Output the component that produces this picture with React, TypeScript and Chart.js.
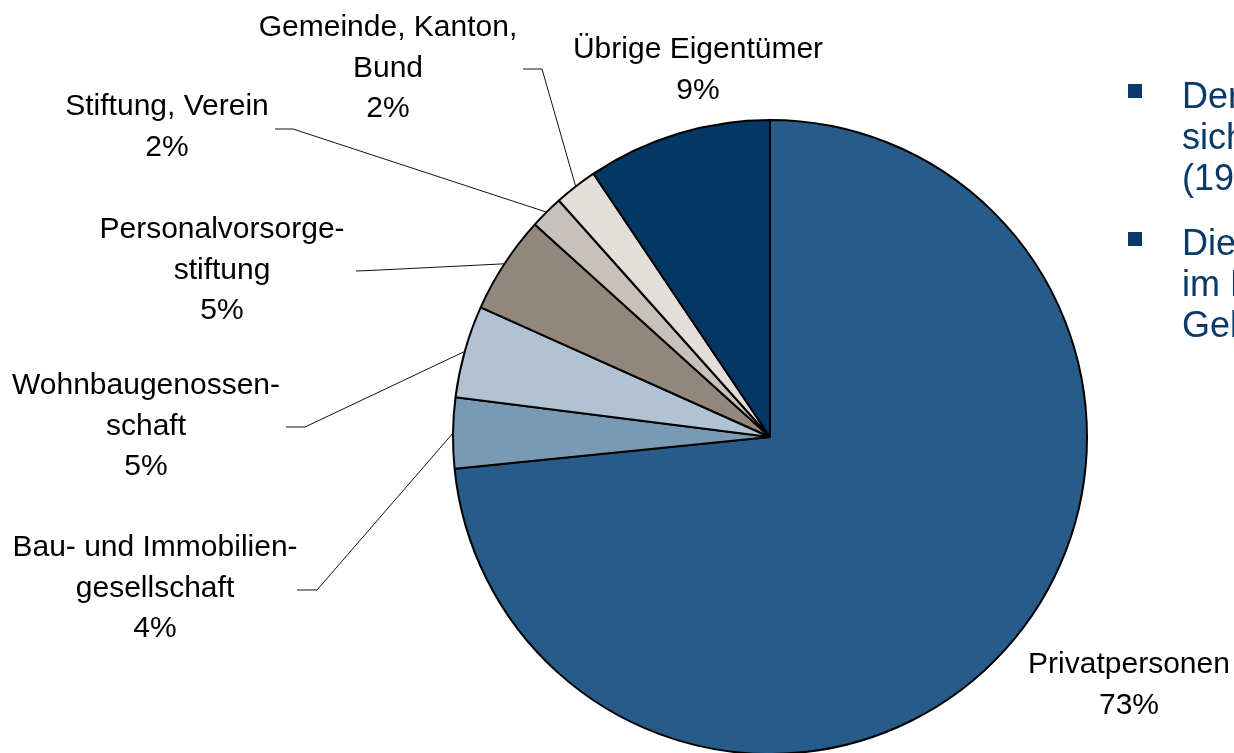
import React, { useEffect, useRef } from "react";
import { Chart, registerables } from "chart.js";

Chart.register(...registerables);

// ---------- data ----------
const categories: string[] = [
  "Privatpersonen",
  "Bau- und Immobiliengesellschaft",
  "Wohnbaugenossenschaft",
  "Personalvorsorgestiftung",
  "Stiftung, Verein",
  "Gemeinde, Kanton, Bund",
  "Übrige Eigentümer",
];
const labelLines: string[][] = [
  ["Privatpersonen"],
  ["Bau- und Immobilien-", "gesellschaft"],
  ["Wohnbaugenossen-", "schaft"],
  ["Personalvorsorge-", "stiftung"],
  ["Stiftung, Verein"],
  ["Gemeinde, Kanton,", "Bund"],
  ["Übrige Eigentümer"],
];
const shares: number[] = [73.4, 3.6, 4.7, 5.0, 1.7, 2.2, 9.4];
const sliceColors: string[] = [
  "#275B89",
  "#7A99B4",
  "#B1C2D2",
  "#91877C",
  "#C8C0BA",
  "#E2DFDB",
  "#033764",
];
const noteParagraphs: string[][] = [
  ["Der Anteil der Privatpersonen", "sich seit der letzten Erhebung", "(1990) kaum verändert."],
  ["Die übrigen Eigentümer", "im Besitz von Wohnungen sind", "Gebietskörperschaften."],
];

// ---------- layout of the label annotations ----------
type LabelLayout = { x: number; y: number; elbow?: [number, number]; start?: [number, number] };
const labelLayout: LabelLayout[] = [
  { x: 1129, y: 665 },
  { x: 155, y: 548, start: [297, 590], elbow: [317, 590] },
  { x: 146, y: 386, start: [286, 427], elbow: [305, 427] },
  { x: 222, y: 230, start: [356, 271], elbow: [370, 270.5] },
  { x: 167, y: 107, start: [275, 129], elbow: [293, 129] },
  { x: 388, y: 28, start: [523, 69], elbow: [542, 69] },
  { x: 698, y: 50 },
];

const FONT = "30px 'Liberation Sans', Arial, sans-serif";
const LINE_H = 40.5;

const labelPlugin = {
  id: "pieLabels",
  afterDatasetsDraw(chart: any) {
    const ctx: CanvasRenderingContext2D = chart.ctx;
    const meta = chart.getDatasetMeta(0);
    ctx.save();
    meta.data.forEach((arc: any, i: number) => {
      const p = arc.getProps(["x", "y", "startAngle", "endAngle", "outerRadius"], true);
      const mid = (p.startAngle + p.endAngle) / 2;
      const ex = p.x + Math.cos(mid) * p.outerRadius;
      const ey = p.y + Math.sin(mid) * p.outerRadius;
      const lay = labelLayout[i];
      if (lay.start && lay.elbow) {
        ctx.beginPath();
        ctx.strokeStyle = "#111";
        ctx.lineWidth = 1;
        ctx.moveTo(lay.start[0], lay.start[1]);
        ctx.lineTo(lay.elbow[0], lay.elbow[1]);
        ctx.lineTo(ex, ey);
        ctx.stroke();
      }
      ctx.fillStyle = "#000";
      ctx.font = FONT;
      ctx.textAlign = "center";
      ctx.textBaseline = "middle";
      const lines = [...labelLines[i], `${Math.round(shares[i])}%`];
      lines.forEach((t, k) => ctx.fillText(t, lay.x, lay.y + k * LINE_H));
    });
    ctx.restore();
  },
};

function PieChart() {
  const ref = useRef<HTMLCanvasElement | null>(null);
  useEffect(() => {
    if (!ref.current) return;
    const chart = new Chart(ref.current, {
      type: "pie",
      data: {
        labels: categories,
        datasets: [
          {
            data: shares,
            backgroundColor: sliceColors,
            borderColor: "#000",
            borderWidth: 2,
          },
        ],
      },
      options: {
        responsive: false,
        animation: false,
        devicePixelRatio: 1,
        radius: 317,
        layout: { padding: { left: 306, right: 0, top: 121, bottom: 0 } },
        plugins: {
          legend: { display: false },
          tooltip: { enabled: false },
        },
      } as any,
      plugins: [labelPlugin],
    });
    return () => chart.destroy();
  }, []);
  return <canvas ref={ref} width={1234} height={753} style={{ position: "absolute", left: 0, top: 0 }} />;
}

export default function App() {
  const noteColor = "#0B3A6A";
  const paraTops = [75, 222];
  const bulletTops = [84, 232];
  return (
    <div
      style={{
        position: "fixed",
        left: 0,
        top: 0,
        width: 1234,
        height: 753,
        overflow: "hidden",
        background: "#fff",
      }}
    >
      <PieChart />
      {noteParagraphs.map((para, i) => (
        <React.Fragment key={i}>
          <div
            style={{
              position: "absolute",
              left: 1128,
              top: bulletTops[i],
              width: 14,
              height: 14,
              background: noteColor,
            }}
          />
          <div
            style={{
              position: "absolute",
              left: 1182,
              top: paraTops[i],
              font: "36px 'Liberation Sans', Arial, sans-serif",
              lineHeight: "41px",
              color: noteColor,
              whiteSpace: "nowrap",
            }}
          >
            {para.map((l, k) => (
              <div key={k}>{l}</div>
            ))}
          </div>
        </React.Fragment>
      ))}
    </div>
  );
}
